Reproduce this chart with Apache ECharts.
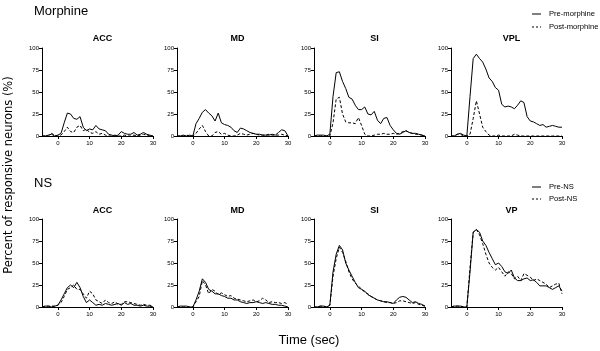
<!DOCTYPE html>
<html>
<head>
<meta charset="utf-8">
<script src="https://cdn.jsdelivr.net/npm/echarts@6/dist/echarts.min.js"></script>
<style>
  html, body { margin: 0; padding: 0; background: #fff; }
  #main { width: 600px; height: 351px; }
</style>
</head>
<body>
<div id="main"></div>
<script>
// time bins (sec)
var times = [-5, -4, -3, -2, -1, 0, 1, 2, 3, 4, 5, 6, 7, 8, 9, 10, 11, 12, 13, 14, 15, 16, 17, 18, 19, 20, 21, 22, 23, 24, 25, 26, 27, 28, 29, 30];
var xTicks = [0, 10, 20, 30];
var regionsTop = ['ACC', 'MD', 'SI', 'VPL'];
var regionsBottom = ['ACC', 'MD', 'SI', 'VP'];

// Morphine row
var accPreM  = [0, 0, 1, 2, 0, 1, 3, 15, 26, 25, 20, 19, 22, 10, 6, 8, 7, 12, 8, 7, 6, 2, 1, 0, 1, 5, 3, 2, 2, 4, 1, 2, 4, 2, 1, 0];
var accPostM = [0, 0, 0, 3, 1, 0, 1, 5, 10, 5, 4, 10, 12, 6, 8, 4, 3, 5, 2, 3, 1, 0, 0, 1, 0, 0, 1, 0, 0, 1, 0, 1, 2, 1, 0, 0];
var mdPreM   = [0, 0, 1, 0, 1, 0, 14, 20, 27, 30, 26, 23, 17, 26, 15, 13, 12, 10, 6, 4, 9, 8, 6, 4, 3, 2, 2, 1, 1, 1, 2, 1, 4, 7, 6, 0];
var mdPostM  = [0, 0, 0, 1, 0, 0, 3, 8, 12, 5, 0, 0, 4, 5, 2, 3, 1, 0, 0, 1, 3, 2, 1, 2, 3, 2, 1, 1, 1, 2, 1, 1, 1, 2, 1, 0];
var siPreM   = [0, 1, 1, 1, 0, 2, 45, 72, 73, 62, 54, 44, 42, 35, 30, 30, 33, 25, 24, 28, 18, 14, 20, 21, 12, 7, 3, 2, 4, 6, 4, 3, 3, 2, 1, 0];
var siPostM  = [0, 0, 0, 0, 0, 0, 15, 42, 44, 25, 16, 15, 15, 14, 21, 12, 2, 0, 0, 1, 2, 2, 3, 2, 2, 3, 2, 3, 5, 6, 4, 3, 2, 2, 1, 0];
var vplPreM  = [0, 0, 2, 3, 1, 0, 45, 88, 93, 88, 84, 76, 66, 62, 55, 52, 36, 33, 34, 33, 31, 35, 40, 38, 22, 17, 16, 14, 12, 13, 10, 11, 12, 11, 10, 10];
var vplPostM = [0, 0, 2, 2, 0, 0, 2, 20, 40, 25, 10, 5, 1, 0, 0, 1, 0, 0, 0, 0, 2, 1, 0, 0, 0, 0, 0, 0, 0, 0, 0, 0, 0, 0, 0, 0];

// NS row
var accPreN  = [0, 1, 1, 0, 1, 2, 8, 15, 22, 25, 22, 28, 22, 12, 5, 8, 5, 2, 3, 2, 4, 3, 2, 3, 4, 2, 5, 3, 4, 2, 2, 1, 2, 1, 1, 0];
var accPostN = [0, 1, 1, 1, 1, 2, 5, 12, 20, 22, 25, 20, 20, 15, 10, 18, 15, 8, 6, 4, 8, 5, 4, 6, 3, 3, 6, 6, 5, 4, 3, 2, 3, 2, 2, 1];
var mdPreN   = [0, 1, 1, 1, 0, 0, 8, 18, 32, 28, 20, 18, 15, 15, 13, 12, 10, 10, 8, 8, 6, 5, 4, 5, 5, 6, 5, 4, 5, 4, 3, 3, 2, 2, 1, 0];
var mdPostN  = [0, 0, 0, 0, 0, 0, 6, 12, 30, 25, 15, 20, 18, 14, 16, 14, 12, 13, 10, 9, 8, 7, 6, 7, 8, 6, 7, 10, 8, 5, 6, 5, 5, 4, 5, 3];
var siPreN   = [0, 0, 1, 1, 0, 2, 40, 60, 70, 65, 50, 42, 35, 28, 22, 20, 18, 14, 12, 10, 8, 7, 6, 6, 5, 4, 8, 11, 12, 11, 8, 5, 6, 4, 3, 1];
var siPostN  = [0, 0, 1, 1, 0, 2, 35, 55, 68, 62, 52, 40, 32, 27, 24, 20, 17, 15, 12, 10, 8, 7, 6, 5, 5, 4, 5, 7, 7, 6, 5, 4, 5, 3, 2, 1];
var vpPreN   = [0, 1, 1, 1, 0, 0, 40, 85, 88, 85, 75, 70, 62, 55, 48, 50, 46, 40, 38, 42, 33, 30, 30, 32, 33, 30, 31, 28, 24, 24, 24, 22, 20, 22, 24, 18];
var vpPostN  = [0, 1, 1, 1, 0, 0, 45, 85, 88, 82, 72, 60, 50, 45, 42, 45, 40, 35, 40, 38, 32, 35, 30, 38, 36, 34, 30, 32, 30, 28, 26, 22, 24, 26, 27, 15];

var legendTop = ['Pre-morphine', 'Post-morphine'];
var legendBottom = ['Pre-NS', 'Post-NS'];

var panelLeft = [42, 177, 314, 451];
var rowTop = [48, 219];
var pw = 111, ph = 88;

var chart = echarts.init(document.getElementById('main'));

var pairs = [
  [accPreM, accPostM], [mdPreM, mdPostM], [siPreM, siPostM], [vplPreM, vplPostM],
  [accPreN, accPostN], [mdPreN, mdPostN], [siPreN, siPostN], [vpPreN, vpPostN]
];

function toPoints(vals) {
  return times.map(function (t, i) { return [t, vals[i]]; });
}

var grids = [], xAxes = [], yAxes = [], series = [], titles = [];
var smallFont = { fontFamily: 'Liberation Sans', fontSize: 6, color: '#000' };

for (var i = 0; i < 8; i++) {
  var row = i < 4 ? 0 : 1;
  var col = i % 4;
  grids.push({ left: panelLeft[col], top: rowTop[row], width: pw, height: ph });
  xAxes.push({
    gridIndex: i, type: 'value', min: -5, max: 30,
    axisLine: { onZero: false, lineStyle: { color: '#000', width: 1 } },
    axisTick: { customValues: xTicks, length: 3, lineStyle: { color: '#000' } },
    axisLabel: Object.assign({ customValues: xTicks, margin: 4 }, smallFont),
    splitLine: { show: false }
  });
  yAxes.push({
    gridIndex: i, type: 'value', min: 0, max: 100, interval: 25,
    axisLine: { show: true, onZero: false, lineStyle: { color: '#000', width: 1 } },
    axisTick: { show: true, length: 3, lineStyle: { color: '#000' } },
    axisLabel: Object.assign({ margin: 3 }, smallFont),
    splitLine: { show: false }
  });
  var names = row === 0 ? legendTop : legendBottom;
  series.push({
    name: names[0], type: 'line', xAxisIndex: i, yAxisIndex: i,
    data: toPoints(pairs[i][0]), symbol: 'none',
    lineStyle: { color: '#000', width: 1, type: 'solid' }
  });
  series.push({
    name: names[1], type: 'line', xAxisIndex: i, yAxisIndex: i,
    data: toPoints(pairs[i][1]), symbol: 'none',
    lineStyle: { color: '#000', width: 1, type: [3, 2] }
  });
  titles.push({
    text: row === 0 ? regionsTop[col] : regionsBottom[col],
    left: panelLeft[col] + pw / 2, top: row === 0 ? 29 : 201, textAlign: 'center',
    textStyle: { fontFamily: 'Liberation Sans', fontSize: 9, fontWeight: 'bold', color: '#000' }
  });
}

// row headers
titles.push({ text: 'Morphine', left: 29, top: 0, textStyle: { fontFamily: 'Liberation Sans', fontSize: 13, fontWeight: 'normal', color: '#000' } });
titles.push({ text: 'NS', left: 29, top: 172, textStyle: { fontFamily: 'Liberation Sans', fontSize: 13, fontWeight: 'normal', color: '#000' } });

// legend keys drawn by hand (short line + label)
function legendItems(labels, y0, gap) {
  var out = [];
  labels.forEach(function (lab, k) {
    var y = y0 + k * gap;
    out.push({ type: 'line', shape: { x1: 532, y1: y, x2: 541, y2: y },
      style: { stroke: '#000', lineWidth: 1, lineDash: k === 0 ? null : [2, 2] } });
    out.push({ type: 'text', x: 549, y: y,
      style: { text: lab, fontFamily: 'Liberation Sans', fontSize: 7.6, fill: '#000', textVerticalAlign: 'middle' } });
  });
  return out;
}

var option = {
  animation: false,
  backgroundColor: '#fff',
  title: titles,
  grid: grids,
  xAxis: xAxes,
  yAxis: yAxes,
  series: series,
  graphic: [
    { type: 'text', x: 9, y: 175, rotation: Math.PI / 2,
      style: { text: 'Percent of responsive neurons (%)', fontFamily: 'DejaVu Sans', fontSize: 11.5,
        fill: '#000', textAlign: 'center', textVerticalAlign: 'middle' } },
    { type: 'text', x: 309, y: 340,
      style: { text: 'Time (sec)', fontFamily: 'Liberation Sans', fontSize: 13,
        fill: '#000', textAlign: 'center', textVerticalAlign: 'middle' } }
  ].concat(legendItems(legendTop, 14, 13), legendItems(legendBottom, 187, 12))
};

chart.setOption(option);
</script>
</body>
</html>
